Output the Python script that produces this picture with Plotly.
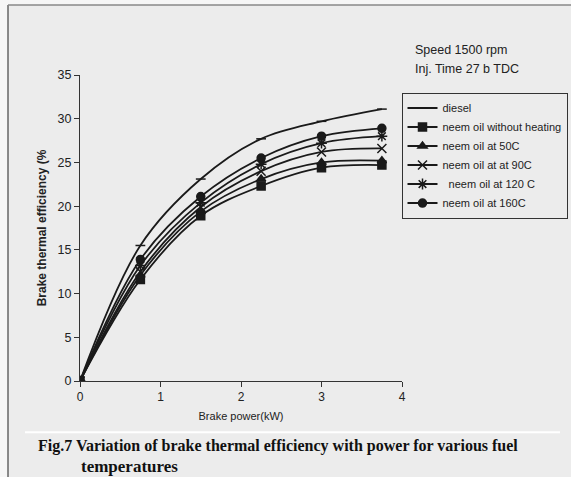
import plotly.graph_objects as go

power = [0, 0.75, 1.5, 2.25, 3.0, 3.75]
diesel = [0, 15.5, 23.1, 27.7, 29.7, 31.1]
neem_no_heat = [0, 11.6, 18.9, 22.3, 24.4, 24.7]
neem_50 = [0, 12.1, 19.4, 23.1, 25.0, 25.2]
neem_90 = [0, 12.5, 19.9, 24.0, 26.2, 26.6]
neem_120 = [0, 13.2, 20.4, 24.8, 27.2, 28.0]
neem_160 = [0, 13.9, 21.1, 25.5, 28.0, 28.9]

series = [
    ("diesel", diesel, "line-ew-open", 7),
    ("neem oil without heating", neem_no_heat, "square", 8),
    ("neem oil at 50C", neem_50, "triangle-up", 8),
    ("neem oil at at 90C", neem_90, "x-thin-open", 9),
    ("  neem oil at 120 C", neem_120, "asterisk-open", 9),
    ("neem oil at 160C", neem_160, "circle", 8),
]

fig = go.Figure()
for name, ys, sym, sz in series:
    fig.add_trace(go.Scatter(
        x=power, y=ys, name=name, mode="lines+markers",
        line=dict(color="#1a1a1a", width=1.8, shape="spline", smoothing=1.0),
        marker=dict(symbol=sym, size=sz, color="#1a1a1a",
                    line=dict(color="#1a1a1a", width=1.5)),
    ))

W, H = 571, 477
L, R, T, B = 80, 402, 75, 380.7
pw, ph = R - L, B - T

def px(x):
    return (x - L) / pw

def py(y):
    return (B - y) / ph

bg = "#ececec"
fig.update_layout(
    width=W, height=H,
    margin=dict(l=L, r=W - R, t=T, b=H - B, autoexpand=False),
    paper_bgcolor="#f6f6f6", plot_bgcolor="rgba(0,0,0,0)",
    font=dict(family="Liberation Sans, Arial, sans-serif", color="#222222", size=12),
    showlegend=True,
    legend=dict(x=px(401.5), y=py(92.5), xanchor="left", yanchor="top",
                bgcolor=bg, bordercolor="#333333", borderwidth=1,
                font=dict(size=11, color="#222222"), tracegroupgap=0,
                itemwidth=30),
    xaxis=dict(range=[0, 4], dtick=1, showgrid=False, zeroline=False,
               showline=True, linecolor="#333333", linewidth=1,
               ticks="outside", ticklen=5, tickcolor="#333333",
               tickfont=dict(size=12), automargin=False,
               title=dict(text="Brake power(kW)", font=dict(size=11), standoff=8)),
    yaxis=dict(range=[0, 35], dtick=5, showgrid=False, zeroline=False,
               showline=True, linecolor="#333333", linewidth=1,
               ticks="outside", ticklen=5, tickcolor="#333333",
               tickfont=dict(size=12.5), automargin=False,
               title=dict(text="<b>Brake thermal efficiency (%</b>", font=dict(size=12), standoff=8)),
)

# frame background and frame lines
fig.add_shape(type="rect", xref="paper", yref="paper", layer="below",
              x0=px(8), x1=px(W + 5), y0=py(5), y1=py(H + 5),
              fillcolor=bg, line=dict(width=0))
fig.add_shape(type="line", xref="paper", yref="paper",
              x0=px(8), x1=px(8), y0=py(5), y1=py(H + 5),
              line=dict(color="#666666", width=1.5))
fig.add_shape(type="line", xref="paper", yref="paper",
              x0=px(8), x1=px(W + 5), y0=py(5), y1=py(5),
              line=dict(color="#888888", width=1.5))
# white scan line above caption
fig.add_shape(type="line", xref="paper", yref="paper",
              x0=px(25), x1=px(560), y0=py(432), y1=py(432),
              line=dict(color="#ffffff", width=2))

fig.add_annotation(xref="paper", yref="paper", x=px(413), y=py(50),
                   xanchor="left", yanchor="middle", showarrow=False,
                   text="Speed 1500 rpm", font=dict(size=12.5, color="#222222"))
fig.add_annotation(xref="paper", yref="paper", x=px(413), y=py(69),
                   xanchor="left", yanchor="middle", showarrow=False,
                   text="Inj. Time 27 b TDC", font=dict(size=12.5, color="#222222"))

cap_font = dict(family="Liberation Serif, Times New Roman, serif", size=16, color="#111111")
fig.add_annotation(xref="paper", yref="paper", x=px(36), y=py(446),
                   xanchor="left", yanchor="middle", showarrow=False,
                   text="<b>Fig.7 Variation of brake thermal efficiency with power for various fuel</b>",
                   font=cap_font)
fig.add_annotation(xref="paper", yref="paper", x=px(79), y=py(466),
                   xanchor="left", yanchor="middle", showarrow=False,
                   text="<b>temperatures</b>",
                   font=dict(family=cap_font["family"], size=17, color="#111111"))

fig.write_html(
    "out.html",
    config={"displayModeBar": False},
    post_script="document.body.style.margin='0';document.body.style.padding='0';document.body.style.overflow='hidden';",
)
